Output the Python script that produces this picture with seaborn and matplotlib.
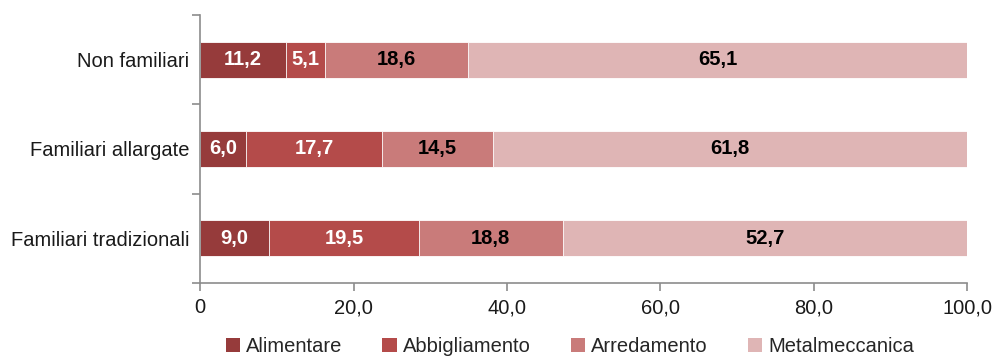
import numpy as np
import pandas as pd
import matplotlib
matplotlib.use("Agg")
import matplotlib.pyplot as plt
import seaborn as sns
from matplotlib.patches import Patch
from matplotlib.ticker import FixedLocator, FuncFormatter

groups = ["Non familiari", "Familiari allargate", "Familiari tradizionali"]
sectors = ["Alimentare", "Abbigliamento", "Arredamento", "Metalmeccanica"]
alimentare = [11.2, 6.0, 9.0]
abbigliamento = [5.1, 17.7, 19.5]
arredamento = [18.6, 14.5, 18.8]
metalmeccanica = [65.1, 61.8, 52.7]

colors = ["#963B3B", "#B44B4A", "#C97B7A", "#DFB5B5"]
text_colors = ["white", "white", "black", "black"]

sns.set_theme(style="white")
plt.rcParams["font.family"] = ["Liberation Sans", "DejaVu Sans"]

df = pd.DataFrame({"gruppo": groups, "Alimentare": alimentare,
                   "Abbigliamento": abbigliamento, "Arredamento": arredamento,
                   "Metalmeccanica": metalmeccanica})
cum = df[sectors].cumsum(axis=1)

fig, ax = plt.subplots(figsize=(9.96, 3.58), dpi=100)
fig.subplots_adjust(left=0.201, right=0.971, top=0.958, bottom=0.21)

# stacked bars: draw cumulative totals from the largest down
for sector, color in reversed(list(zip(sectors, colors))):
    sns.barplot(x=cum[sector], y=df["gruppo"], orient="h", color=color,
                width=0.4, ax=ax, edgecolor="white", linewidth=0.6,
                saturation=1)

# value labels centred in each segment
for i in range(len(groups)):
    left = 0.0
    for sector, tc in zip(sectors, text_colors):
        v = df.loc[i, sector]
        ax.text(left + v / 2, i, f"{v:.1f}".replace(".", ","), ha="center",
                va="center", color=tc, fontsize=14.5, fontweight="bold")
        left += v

ax.set_xlim(0, 100)
ax.set_ylim(2.5, -0.5)
ax.set_xlabel("")
ax.set_ylabel("")
ax.set_xticks([0, 20, 40, 60, 80, 100])
ax.xaxis.set_major_formatter(FuncFormatter(lambda v, p: "0" if v == 0 else f"{v:.1f}".replace(".", ",")))
ax.yaxis.set_minor_locator(FixedLocator([-0.5, 0.5, 1.5, 2.5]))
ax.tick_params(axis="y", which="major", left=True, length=0, labelsize=14.5, pad=8, colors="#1a1a1a")
ax.tick_params(axis="y", which="minor", left=True, length=6, width=1.2, color="#8c8c8c", direction="out")
ax.tick_params(axis="x", which="major", bottom=True, length=6, width=1.2, color="#8c8c8c", direction="out",
               labelsize=14.5, labelcolor="#1a1a1a", pad=5)
for s in ["top", "right"]:
    ax.spines[s].set_visible(False)
for s in ["left", "bottom"]:
    ax.spines[s].set_color("#8c8c8c")
    ax.spines[s].set_linewidth(1.2)

handles = [Patch(facecolor=c, edgecolor="none") for c in colors]
fig.legend(handles, sectors, loc="lower center", ncol=4, frameon=False,
           bbox_to_anchor=(0.572, -0.045), fontsize=14.5, handlelength=0.7,
           handleheight=0.7, handletextpad=0.3, columnspacing=2.0)

fig.savefig("out.png", dpi=100)
